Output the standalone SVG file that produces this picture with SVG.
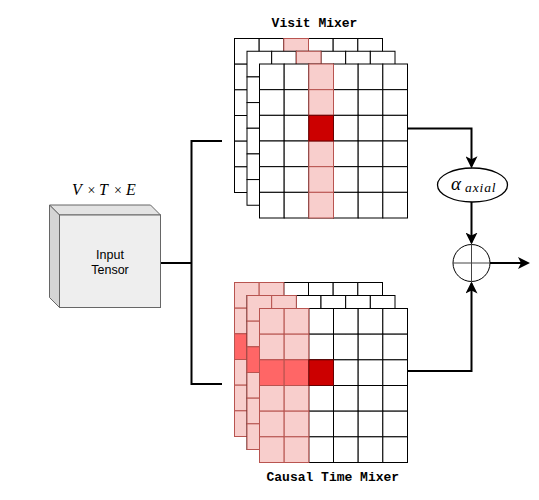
<svg xmlns="http://www.w3.org/2000/svg" xmlns:xlink="http://www.w3.org/1999/xlink" width="539" height="500" viewBox="0 0 539 500">
<style>
.c{fill:#ffffff;stroke:#000000;stroke-width:1}
.p{fill:#f8cecc;stroke:#b85450;stroke-width:1}
.r{fill:#ff6666;stroke:#b85450;stroke-width:1}
.d{fill:#cc0000;stroke:#660000;stroke-width:1}
.lbl{font-family:"Liberation Mono","Courier New",monospace;font-weight:bold;font-size:13px;fill:#000;text-anchor:middle}
.math{font-family:"Liberation Serif","Times New Roman",serif;font-style:italic;fill:#000}
.conn{fill:none;stroke:#000;stroke-width:2}
</style>
<defs>
<marker id="arr" viewBox="0 0 12 12" refX="10" refY="6" markerWidth="12" markerHeight="12" markerUnits="userSpaceOnUse" orient="auto">
<path d="M0,0 L12,6 L0,12 L3,6 Z" fill="#000"/>
</marker>
<g id="g6">
<rect class="c" x="0" y="0" width="24.67" height="25.67"/><rect class="c" x="24.67" y="0" width="24.67" height="25.67"/><rect class="c" x="49.33" y="0" width="24.67" height="25.67"/><rect class="c" x="74" y="0" width="24.67" height="25.67"/><rect class="c" x="98.67" y="0" width="24.67" height="25.67"/><rect class="c" x="123.33" y="0" width="24.67" height="25.67"/>
<rect class="c" x="0" y="25.67" width="24.67" height="25.67"/><rect class="c" x="24.67" y="25.67" width="24.67" height="25.67"/><rect class="c" x="49.33" y="25.67" width="24.67" height="25.67"/><rect class="c" x="74" y="25.67" width="24.67" height="25.67"/><rect class="c" x="98.67" y="25.67" width="24.67" height="25.67"/><rect class="c" x="123.33" y="25.67" width="24.67" height="25.67"/>
<rect class="c" x="0" y="51.33" width="24.67" height="25.67"/><rect class="c" x="24.67" y="51.33" width="24.67" height="25.67"/><rect class="c" x="49.33" y="51.33" width="24.67" height="25.67"/><rect class="c" x="74" y="51.33" width="24.67" height="25.67"/><rect class="c" x="98.67" y="51.33" width="24.67" height="25.67"/><rect class="c" x="123.33" y="51.33" width="24.67" height="25.67"/>
<rect class="c" x="0" y="77" width="24.67" height="25.67"/><rect class="c" x="24.67" y="77" width="24.67" height="25.67"/><rect class="c" x="49.33" y="77" width="24.67" height="25.67"/><rect class="c" x="74" y="77" width="24.67" height="25.67"/><rect class="c" x="98.67" y="77" width="24.67" height="25.67"/><rect class="c" x="123.33" y="77" width="24.67" height="25.67"/>
<rect class="c" x="0" y="102.67" width="24.67" height="25.67"/><rect class="c" x="24.67" y="102.67" width="24.67" height="25.67"/><rect class="c" x="49.33" y="102.67" width="24.67" height="25.67"/><rect class="c" x="74" y="102.67" width="24.67" height="25.67"/><rect class="c" x="98.67" y="102.67" width="24.67" height="25.67"/><rect class="c" x="123.33" y="102.67" width="24.67" height="25.67"/>
<rect class="c" x="0" y="128.33" width="24.67" height="25.67"/><rect class="c" x="24.67" y="128.33" width="24.67" height="25.67"/><rect class="c" x="49.33" y="128.33" width="24.67" height="25.67"/><rect class="c" x="74" y="128.33" width="24.67" height="25.67"/><rect class="c" x="98.67" y="128.33" width="24.67" height="25.67"/><rect class="c" x="123.33" y="128.33" width="24.67" height="25.67"/>
</g>
<g id="pcol">
<rect class="p" x="0" y="0" width="24.67" height="25.67"/><rect class="p" x="0" y="25.67" width="24.67" height="25.67"/><rect class="p" x="0" y="51.33" width="24.67" height="25.67"/><rect class="p" x="0" y="77" width="24.67" height="25.67"/><rect class="p" x="0" y="102.67" width="24.67" height="25.67"/><rect class="p" x="0" y="128.33" width="24.67" height="25.67"/>
</g>
<g id="vl">
<use xlink:href="#g6"/>
<use xlink:href="#pcol" x="49.33"/>
</g>
<g id="cl">
<use xlink:href="#g6"/>
<use xlink:href="#pcol" x="0"/>
<use xlink:href="#pcol" x="24.67"/>
<rect class="r" x="0" y="51.33" width="24.67" height="25.67"/>
<rect class="r" x="24.67" y="51.33" width="24.67" height="25.67"/>
</g>
</defs>
<rect x="0" y="0" width="539" height="500" fill="#ffffff"/>

<g id="connectors">
<path class="conn" d="M160.5,263 H191.5"/>
<path class="conn" d="M222,141 H191.5 V384 H222"/>
<path class="conn" d="M407.5,128.5 H471.5 V166.3" marker-end="url(#arr)"/>
<path class="conn" d="M471.5,201.7 V242.5" marker-end="url(#arr)"/>
<path class="conn" d="M407.5,371 H471.5 V283.5" marker-end="url(#arr)"/>
<path class="conn" d="M490,263 H528" marker-end="url(#arr)"/>
</g>

<g id="input-tensor">
<polygon points="49.5,205 150.5,205 160.5,215 59.5,215" fill="#e3e3e3" stroke="#666666" stroke-width="1"/>
<polygon points="49.5,205 59.5,215 59.5,307.5 49.5,297.5" fill="#d4d4d4" stroke="#666666" stroke-width="1"/>
<rect x="59.5" y="215" width="101" height="92.5" fill="#eeeeee" stroke="#666666" stroke-width="1"/>
<text x="110" y="259.3" font-family="Liberation Sans, Arial, sans-serif" font-size="12.5" text-anchor="middle" fill="#000">Input</text>
<text x="110" y="274.3" font-family="Liberation Sans, Arial, sans-serif" font-size="12.5" text-anchor="middle" fill="#000">Tensor</text>
<text class="math" y="195" font-size="16"><tspan x="72">V</tspan><tspan x="87.5" font-style="normal" font-size="14">×</tspan><tspan x="99">T</tspan><tspan x="114" font-style="normal" font-size="14">×</tspan><tspan x="126">E</tspan></text>
</g>

<g id="visit-mixer">
<use xlink:href="#vl" transform="translate(234.5,38.5)"/>
<use xlink:href="#vl" transform="translate(247,51.25)"/>
<use xlink:href="#vl" transform="translate(259.5,64)"/>
<rect class="d" x="308.83" y="115.33" width="24.67" height="25.67"/>
<text class="lbl" x="314.5" y="26.5">Visit Mixer</text>
</g>

<g id="causal-time-mixer">
<use xlink:href="#cl" transform="translate(234.5,282.5)"/>
<use xlink:href="#cl" transform="translate(247,295.5)"/>
<use xlink:href="#cl" transform="translate(259.5,308.5)"/>
<rect class="d" x="308.83" y="359.83" width="24.67" height="25.67"/>
<text class="lbl" x="332.8" y="481">Causal Time Mixer</text>
</g>

<g id="alpha-axial">
<ellipse cx="472.5" cy="185" rx="35" ry="17" fill="#ffffff" stroke="#000" stroke-width="1.3"/>
<text class="math" y="189.5"><tspan x="451" font-size="19">α</tspan><tspan x="465" y="192" font-size="13.5" letter-spacing="0.9">axial</tspan></text>
</g>

<g id="sum">
<circle cx="471.5" cy="263" r="18.5" fill="#ffffff" stroke="#000" stroke-width="1"/>
<path d="M471.5,244.5 V281.5 M453,263 H490" stroke="#444" stroke-width="1" fill="none"/>
</g>
</svg>
